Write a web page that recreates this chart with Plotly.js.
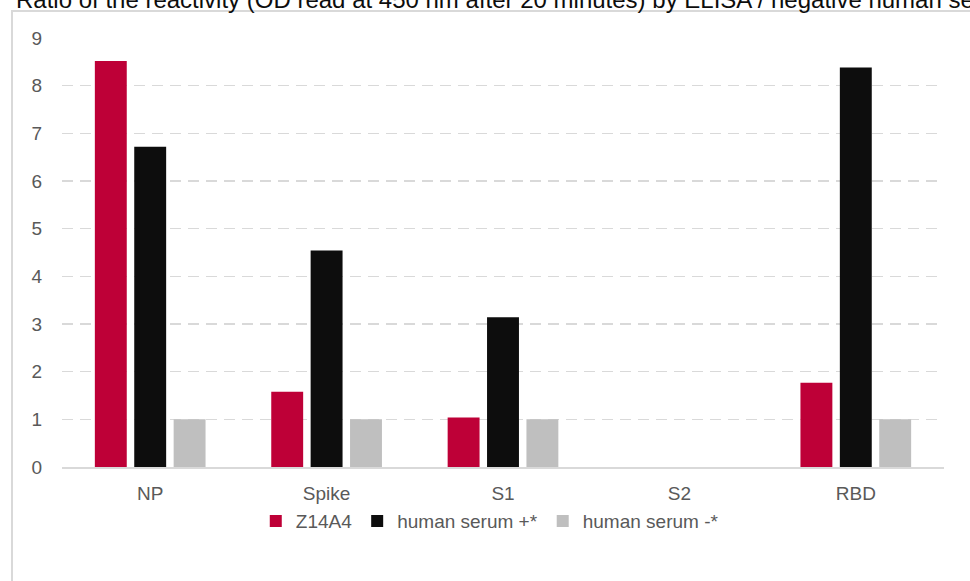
<!DOCTYPE html>
<html>
<head>
<meta charset="utf-8">
<script src="https://cdn.plot.ly/plotly-3.0.1.min.js"></script>
<style>
  html, body { margin: 0; padding: 0; background: #ffffff; overflow: hidden; }
  #frame { position: absolute; left: 11px; top: 10px; width: 990px; height: 600px; border: 2px solid #d9d9d9; box-sizing: border-box; }
  #chart { position: absolute; left: 0; top: 0; width: 970px; height: 581px; }
</style>
</head>
<body>
<div id="frame"></div>
<div id="chart"></div>
<script>
const categories = ["NP", "Spike", "S1", "S2", "RBD"];
const seriesNames = ["Z14A4", "human serum +*", "human serum -*"];
const z14a4 = [8.52, 1.58, 1.04, null, 1.77];
const serumPos = [6.72, 4.54, 3.14, null, 8.38];
const serumNeg = [1.0, 1.0, 1.0, null, 1.0];
const yTicks = [0, 1, 2, 3, 4, 5, 6, 7, 8, 9];
const titleText = "Ratio of the reactivity (OD read at 450 nm after 20 minutes) by ELISA / negative human serum";

const colors = ["#BE0037", "#0D0D0D", "#BFBFBF"];
const font = "'Liberation Sans Narrow', 'Arial Narrow', 'Liberation Sans', Arial, sans-serif";

const values = [z14a4, serumPos, serumNeg];
const traces = values.map((v, i) => ({
  type: "bar",
  name: seriesNames[i],
  x: categories,
  y: v,
  marker: { color: colors[i], line: { width: 0 } },
  hoverinfo: "skip"
}));

const layout = {
  width: 970,
  height: 581,
  margin: { l: 62, r: 26, t: 38, b: 114 },
  paper_bgcolor: "rgba(0,0,0,0)",
  plot_bgcolor: "rgba(0,0,0,0)",
  barmode: "group",
  bargap: 0.33,
  bargroupgap: 0.19,
  showlegend: true,
  legend: {
    orientation: "h",
    x: 0.485, xanchor: "center",
    y: -0.126, yanchor: "middle",
    itemwidth: 30,
    font: { family: font, size: 19, color: "#595959" },
    traceorder: "normal"
  },
  xaxis: {
    type: "category",
    tickfont: { family: font, size: 19, color: "#595959" },
    showgrid: false,
    showline: true,
    linecolor: "#d9d9d9",
    linewidth: 2,
    ticks: "",
    ticklabelstandoff: 8,
    zeroline: false,
    fixedrange: true
  },
  yaxis: {
    range: [0, 9],
    tickvals: yTicks,
    ticktext: yTicks.map(String),
    tickfont: { family: font, size: 19, color: "#595959" },
    showgrid: true,
    gridcolor: "#d9d9d9",
    gridwidth: 1.5,
    griddash: "11px,7px",
    zeroline: false,
    showline: false,
    ticks: "",
    ticklabelstandoff: 19,
    fixedrange: true
  },
  annotations: [{
    text: titleText,
    xref: "paper", yref: "paper",
    x: (14 - 62) / 882, y: 1,
    xanchor: "left", yanchor: "bottom",
    yshift: 23,
    showarrow: false,
    font: { family: font, size: 24, color: "#0D0D0D" }
  }]
};

Plotly.newPlot("chart", traces, layout, { staticPlot: true, displayModeBar: false });
</script>
</body>
</html>
